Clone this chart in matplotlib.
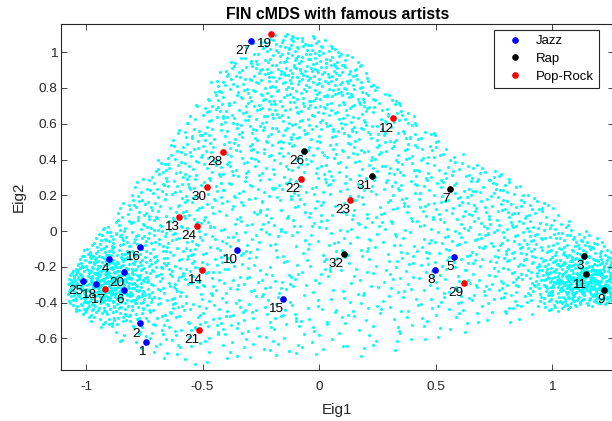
import numpy as np
import matplotlib
matplotlib.use("Agg")
import matplotlib.pyplot as plt
from matplotlib.path import Path

# labelled artists (Eig1, Eig2)
jazz_ids = [1, 2, 4, 5, 6, 8, 10, 15, 16, 18, 20, 25, 27]
jazz_x = [-0.744, -0.770, -0.900, 0.578, -0.837, 0.499, -0.353, -0.156, -0.768, -0.956, -0.837, -1.011, -0.293]
jazz_y = [-0.620, -0.516, -0.158, -0.143, -0.328, -0.218, -0.106, -0.378, -0.089, -0.298, -0.231, -0.279, 1.063]

rap_ids = [3, 7, 9, 11, 26, 31, 32]
rap_x = [1.139, 0.562, 1.225, 1.147, -0.064, 0.226, 0.106]
rap_y = [-0.140, 0.235, -0.328, -0.242, 0.449, 0.309, -0.128]

pop_ids = [12, 13, 14, 17, 19, 21, 22, 23, 24, 28, 29, 30]
pop_x = [0.316, -0.600, -0.501, -0.918, -0.205, -0.515, -0.079, 0.134, -0.525, -0.413, 0.621, -0.482]
pop_y = [0.630, 0.080, -0.216, -0.326, 1.102, -0.555, 0.292, 0.175, 0.030, 0.443, -0.292, 0.248]

# background songs: outline of the cloud and dots per 0.2 x 0.2 cell
cloud_outline = [
    (-0.30, 1.07), (-0.20, 1.11), (-0.05, 1.10), (0.06, 1.06), (0.18, 0.95), (0.27, 0.80),
    (0.36, 0.70), (0.48, 0.57), (0.56, 0.47), (0.70, 0.40), (0.80, 0.32), (0.95, 0.20),
    (1.05, 0.10), (1.15, 0.00), (1.25, -0.08), (1.32, -0.10), (1.32, -0.40), (1.15, -0.42),
    (1.00, -0.46), (0.85, -0.50), (0.65, -0.56), (0.45, -0.63), (0.25, -0.69), (0.00, -0.72),
    (-0.30, -0.72), (-0.55, -0.75), (-0.70, -0.70), (-0.85, -0.62), (-0.97, -0.52),
    (-1.06, -0.45), (-1.09, -0.33), (-1.07, -0.20), (-0.99, -0.07), (-0.90, 0.06),
    (-0.82, 0.20), (-0.77, 0.30), (-0.70, 0.40), (-0.65, 0.48), (-0.60, 0.58),
    (-0.52, 0.72), (-0.46, 0.85), (-0.38, 0.95),
]
cell_x = [-1.1, -0.9, -0.7, -0.5, -0.3, -0.1, 0.1, 0.3, 0.5, 0.7, 0.9, 1.1, 1.3]
cell_y = [1.1, 0.9, 0.7, 0.5, 0.3, 0.1, -0.1, -0.3, -0.5, -0.7]
cell_count = [
    [0, 0, 0, 0, 30, 65, 40, 0, 0, 0, 0, 0, 0],
    [0, 0, 0, 25, 55, 80, 75, 30, 0, 0, 0, 0, 0],
    [0, 0, 20, 40, 50, 55, 55, 45, 25, 0, 0, 0, 0],
    [0, 15, 35, 40, 40, 40, 35, 40, 35, 20, 0, 0, 0],
    [0, 30, 40, 40, 30, 30, 30, 30, 35, 40, 30, 0, 0],
    [20, 45, 45, 35, 25, 25, 22, 25, 30, 40, 45, 35, 0],
    [60, 90, 60, 35, 25, 20, 20, 22, 25, 35, 55, 80, 60],
    [170, 280, 70, 35, 25, 20, 18, 20, 25, 30, 55, 280, 280],
    [40, 60, 40, 30, 25, 20, 15, 15, 15, 15, 10, 10, 5],
    [0, 10, 12, 12, 12, 12, 10, 8, 5, 0, 0, 0, 0],
]


def halton(n, base, leap=31):
    """Leaped radical inverse sequence, a deterministic way to spread dots evenly."""
    i = 1 + leap * np.arange(n)
    f = 1.0
    r = np.zeros(n)
    while np.any(i > 0):
        f /= base
        r += f * (i % base)
        i //= base
    return r


def cloud_points():
    """Spreads dots over the outline with the density of the cell table."""
    x0, x1, y0, y1 = -1.12, 1.34, -0.78, 1.14
    n = 50000
    px = x0 + (x1 - x0) * halton(n, 2)
    py = y0 + (y1 - y0) * halton(n, 3)
    u = halton(n, 5)
    # bilinear look-up in the count table (rows run top to bottom)
    cx = np.array(cell_x)
    cy = np.array(cell_y)[::-1]
    grid = np.array(cell_count, dtype=float)[::-1]
    fx = np.interp(px, cx, np.arange(len(cx)))
    fy = np.interp(py, cy, np.arange(len(cy)))
    i0 = np.minimum(fx.astype(int), len(cx) - 2)
    j0 = np.minimum(fy.astype(int), len(cy) - 2)
    tx = fx - i0
    ty = fy - j0
    d = (grid[j0, i0] * (1 - tx) * (1 - ty) + grid[j0, i0 + 1] * tx * (1 - ty)
         + grid[j0 + 1, i0] * (1 - tx) * ty + grid[j0 + 1, i0 + 1] * tx * ty)
    per_cell = n / ((x1 - x0) * (y1 - y0) / 0.04)
    keep = u < d / per_cell
    inside = Path(cloud_outline).contains_points(np.column_stack([px, py]))
    keep &= inside
    return px[keep], py[keep]


plt.rcParams['font.family'] = ['Liberation Sans', 'DejaVu Sans']
gray = '#262626'

fig = plt.figure(figsize=(6.12, 4.21), dpi=100)
ax = fig.add_axes([0.1002, 0.1211, 0.9023, 0.8211])

bx, by = cloud_points()
ax.plot(bx, by, 'o', color='#00FFFF', ms=2.2, mew=0, zorder=1)

groups = [
    ('Jazz', '#0000FF', jazz_ids, jazz_x, jazz_y),
    ('Rap', '#000000', rap_ids, rap_x, rap_y),
    ('Pop-Rock', '#FF0000', pop_ids, pop_x, pop_y),
]
for name, col, ids, xs, ys in groups:
    ax.plot(xs, ys, 'o', color=col, ms=4.8, mew=0, label=name, zorder=3)
    for k, xv, yv in zip(ids, xs, ys):
        ax.annotate(str(k), (xv, yv), xytext=(0, -3), textcoords='offset points',
                    ha='right', va='top', fontsize=9.7, color='black', zorder=4)

ax.set_xlim(-1.106, 1.264)
ax.set_ylim(-0.777, 1.156)
ax.set_xticks([-1, -0.5, 0, 0.5, 1])
ax.set_xticklabels(['-1', '-0.5', '0', '0.5', '1'])
ax.set_yticks([-0.6, -0.4, -0.2, 0, 0.2, 0.4, 0.6, 0.8, 1])
ax.set_yticklabels(['-0.6', '-0.4', '-0.2', '0', '0.2', '0.4', '0.6', '0.8', '1'])
ax.tick_params(direction='in', length=4, width=0.6, colors=gray, labelsize=9.7,
               top=True, right=True)
ax.tick_params(axis='x', pad=8)
ax.tick_params(axis='y', pad=3)
for s in ax.spines.values():
    s.set_color(gray)
    s.set_linewidth(0.8)

ax.set_title('FIN cMDS with famous artists', fontsize=11.4, fontweight='bold', pad=4)
ax.set_xlabel('Eig1', fontsize=11, color=gray, labelpad=7)
ax.set_ylabel('Eig2', fontsize=11, color=gray, labelpad=6)

leg = ax.legend(loc='upper right', bbox_to_anchor=(0.9737, 0.9835), borderaxespad=0,
                fontsize=9.5, fancybox=False, framealpha=1, edgecolor=gray,
                borderpad=0.38, labelspacing=0.42, handlelength=2.4, handletextpad=0.4,
                numpoints=1)
leg.get_frame().set_linewidth(0.8)

fig.savefig('out.png', dpi=100)
